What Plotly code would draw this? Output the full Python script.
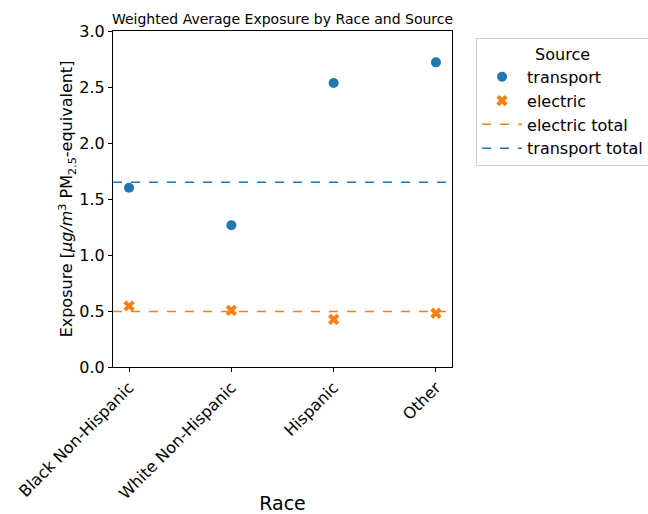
import plotly.graph_objects as go

races = ["Black Non-Hispanic", "White Non-Hispanic", "Hispanic", "Other"]
transport = [1.60, 1.265, 2.535, 2.72]
electric = [0.545, 0.505, 0.425, 0.48]
transport_total = 1.65
electric_total = 0.495

BLUE = "#1f77b4"
ORANGE = "#ff7f0e"
FONT = "DejaVu Sans"

xpos = list(range(len(races)))
xr = [-0.157, len(races) - 1 + 0.157]

fig = go.Figure()
fig.add_trace(go.Scatter(x=xpos, y=transport, mode="markers", name="transport",
                         marker=dict(symbol="circle", size=10, color=BLUE)))
fig.add_trace(go.Scatter(x=xpos, y=electric, mode="markers", name="electric",
                         marker=dict(symbol="x", size=10, color=ORANGE)))
fig.add_trace(go.Scatter(x=xr, y=[electric_total] * 2, mode="lines", name="electric total",
                         line=dict(color=ORANGE, dash="dash", width=1.5)))
fig.add_trace(go.Scatter(x=xr, y=[transport_total] * 2, mode="lines", name="transport total",
                         line=dict(color=BLUE, dash="dash", width=1.5)))

fig.update_layout(
    width=648, height=514,
    margin=dict(l=113, r=196, t=31, b=147, autoexpand=False),
    paper_bgcolor="white", plot_bgcolor="white",
    font=dict(family=FONT, size=16, color="black"),
    title=dict(text="Weighted Average Exposure by Race and Source",
               font=dict(size=14), x=(113 + 452) / 2 / 648, xanchor="center",
               y=1 - 19 / 514, yanchor="middle"),
    showlegend=True,
    legend=dict(title=dict(text="Source", side="top center", font=dict(size=16)),
                x=1.071, xanchor="left", y=0.979, yanchor="top",
                bordercolor="#cccccc", borderwidth=1, bgcolor="white",
                font=dict(size=16), tracegroupgap=0, itemwidth=40),
)
fig.update_xaxes(range=xr, tickmode="array", tickvals=xpos, ticktext=races,
                 tickangle=-45, showgrid=False, zeroline=False, automargin=False,
                 showline=True, linecolor="black", linewidth=1, mirror=True,
                 ticks="outside", ticklen=4, tickcolor="black",
                 title=dict(text="Race", standoff=12))
fig.update_yaxes(range=[0, 3.0], tickmode="array",
                 tickvals=[0, 0.5, 1.0, 1.5, 2.0, 2.5, 3.0],
                 ticktext=["0.0", "0.5", "1.0", "1.5", "2.0", "2.5", "3.0"],
                 showgrid=False, zeroline=False, automargin=False,
                 showline=True, linecolor="black", linewidth=1, mirror=True,
                 ticks="outside", ticklen=4, tickcolor="black",
                 title=dict(text="Exposure [<i>μg/m</i><sup>3</sup> PM<sub>2.5</sub>-equivalent]",
                            font=dict(size=16), standoff=2))

fig.write_html("out.html")
